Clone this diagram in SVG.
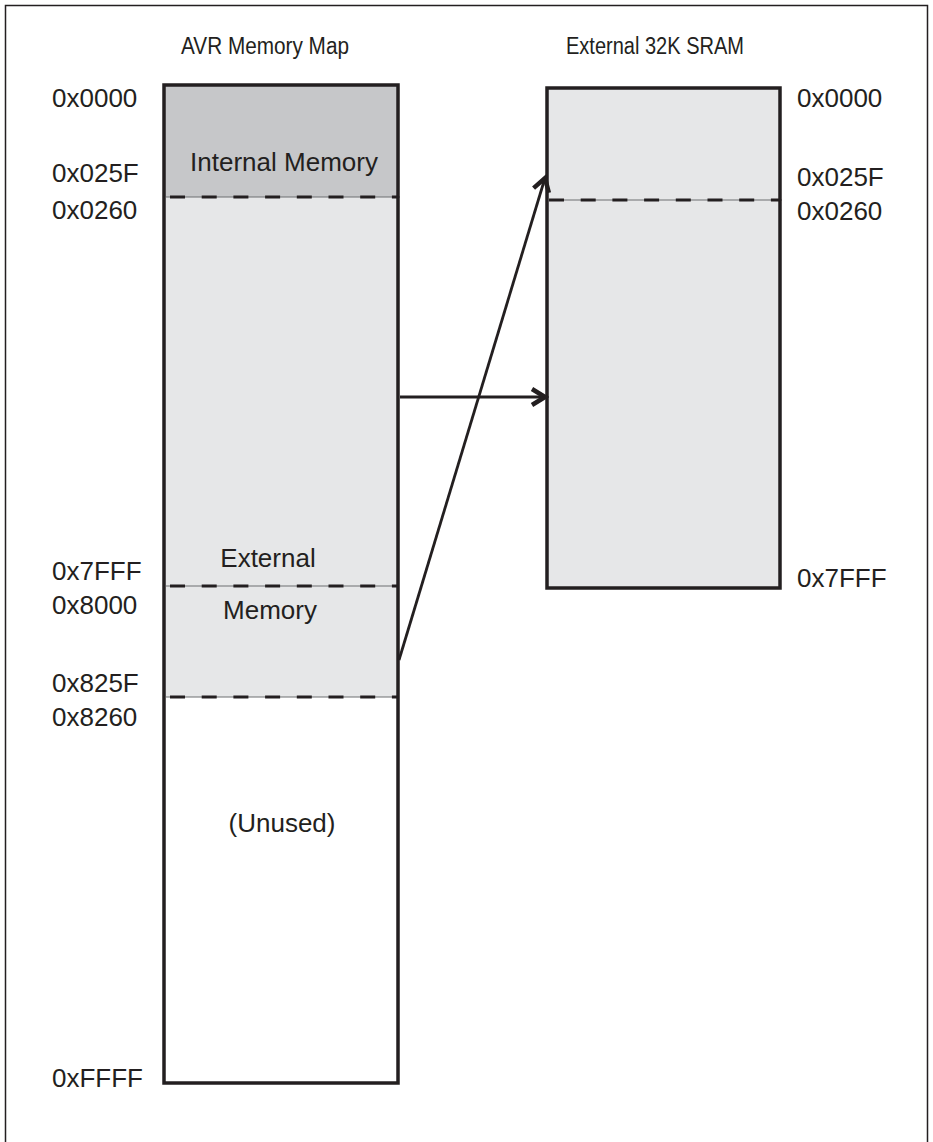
<svg xmlns="http://www.w3.org/2000/svg" width="933" height="1142" viewBox="0 0 933 1142">
<style>
.t{font-family:"Liberation Sans",Arial,sans-serif;fill:#231f20}
.lab{font-size:26px}
.hd{font-size:23px}
.box{fill:none;stroke:#231f20;stroke-width:3.5}
.dash{stroke:#231f20;stroke-width:3;stroke-dasharray:15,16.7}
.thin{stroke:#6d6e70;stroke-width:1}
.conn{stroke:#231f20;stroke-width:2.8;fill:none}
</style>
<defs>
<marker id="ah" viewBox="0 0 20 20" refX="16" refY="10" markerWidth="20" markerHeight="20" markerUnits="userSpaceOnUse" orient="auto">
<path d="M3,2 L16,10 L3,18" fill="none" stroke="#231f20" stroke-width="4.5" stroke-linejoin="miter"/>
</marker>
</defs>
<rect x="0" y="0" width="933" height="1142" fill="#fff"/>
<path d="M5.5,1142 V5.5 H927.5 V1142" fill="none" stroke="#231f20" stroke-width="1.5"/>
<text class="t hd" x="265" y="54" text-anchor="middle" textLength="168" lengthAdjust="spacingAndGlyphs">AVR Memory Map</text>
<text class="t hd" x="655" y="54" text-anchor="middle" textLength="178" lengthAdjust="spacingAndGlyphs">External 32K SRAM</text>
<g id="avr-map">
<rect x="164" y="85" width="234" height="112" fill="#c6c7c9"/>
<rect x="164" y="197" width="234" height="500" fill="#e6e7e8"/>
<rect x="164" y="697" width="234" height="386" fill="#fff"/>
<line class="thin" x1="166" y1="197" x2="400" y2="197"/>
<line class="dash" x1="170" y1="197" x2="398" y2="197"/>
<line class="thin" x1="166" y1="586" x2="398" y2="586"/>
<line class="dash" x1="170" y1="586" x2="398" y2="586"/>
<line class="thin" x1="166" y1="697" x2="398" y2="697"/>
<line class="dash" x1="170" y1="697" x2="398" y2="697"/>
<rect class="box" x="164" y="85" width="234" height="998"/>
<text class="t lab" x="284" y="171" text-anchor="middle">Internal Memory</text>
<text class="t lab" x="268" y="567" text-anchor="middle">External</text>
<text class="t lab" x="270" y="619" text-anchor="middle">Memory</text>
<text class="t lab" x="282" y="832" text-anchor="middle">(Unused)</text>
</g>
<g id="avr-labels">
<text class="t lab" x="52" y="107">0x0000</text>
<text class="t lab" x="52" y="182">0x025F</text>
<text class="t lab" x="52" y="219">0x0260</text>
<text class="t lab" x="52" y="580">0x7FFF</text>
<text class="t lab" x="52" y="614">0x8000</text>
<text class="t lab" x="52" y="692">0x825F</text>
<text class="t lab" x="52" y="726">0x8260</text>
<text class="t lab" x="52" y="1087">0xFFFF</text>
</g>
<g id="sram">
<rect x="547" y="88" width="233" height="500" fill="#e6e7e8"/>
<line class="thin" x1="549" y1="200" x2="782" y2="200"/>
<line class="dash" x1="549" y1="200" x2="780" y2="200"/>
<rect class="box" x="547" y="88" width="233" height="500"/>
</g>
<g id="sram-labels">
<text class="t lab" x="797" y="107">0x0000</text>
<text class="t lab" x="797" y="186">0x025F</text>
<text class="t lab" x="797" y="220">0x0260</text>
<text class="t lab" x="797" y="587">0x7FFF</text>
</g>
<g id="connectors">
<line class="conn" x1="400" y1="397" x2="545" y2="397" marker-end="url(#ah)"/>
<line class="conn" x1="399" y1="660" x2="545" y2="178" marker-end="url(#ah)"/>
</g>
</svg>
